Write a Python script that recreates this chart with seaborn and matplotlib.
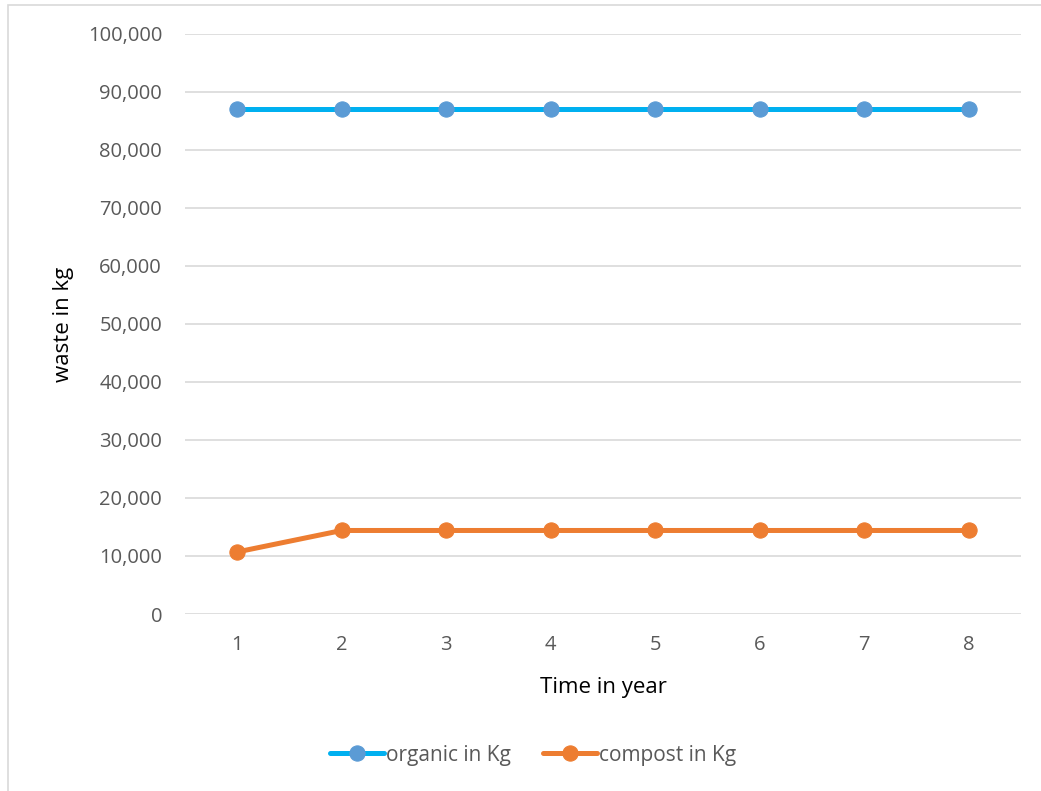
import numpy as np
import pandas as pd
import matplotlib.pyplot as plt
import matplotlib.ticker as mticker
from matplotlib.patches import Rectangle
import seaborn as sns

# data
years = [1, 2, 3, 4, 5, 6, 7, 8]
organic = [87000, 87000, 87000, 87000, 87000, 87000, 87000, 87000]
compost = [10700, 14400, 14400, 14400, 14400, 14400, 14400, 14400]
series_names = ["organic in Kg", "compost in Kg"]

df = pd.DataFrame({
    "year": years * 2,
    "waste": organic + compost,
    "series": [series_names[0]] * len(years) + [series_names[1]] * len(years),
})

sns.set_style("white")
plt.rcParams['font.family'] = ['Open Sans', 'DejaVu Sans']

fig = plt.figure(figsize=(10.41, 7.91), dpi=100)
ax = fig.add_axes([185 / 1041, 1 - 614 / 791, 836 / 1041, 580 / 791])

# light frame around the chart area
fig.patches.append(Rectangle((8 / 1041, -0.1), 1.2, 1 - 5 / 791 + 0.1,
                             transform=fig.transFigure, fill=False,
                             edgecolor='#D9D9D9', linewidth=1.2))

styles = {
    series_names[0]: dict(line='#00B0F0', marker='#5B9BD5'),
    series_names[1]: dict(line='#ED7D31', marker='#ED7D31'),
}

for name in series_names:
    sub = df[df["series"] == name]
    sns.lineplot(data=sub, x="year", y="waste", ax=ax, color=styles[name]['line'],
                 linewidth=3.6, marker='o', markersize=11,
                 markerfacecolor=styles[name]['marker'],
                 markeredgecolor=styles[name]['marker'], label=name)

ax.set_xlim(0.5, 8.5)
ax.set_ylim(0, 100000)
ax.set_xticks(years)
ax.set_yticks(np.arange(0, 100001, 10000))
ax.yaxis.set_major_formatter(mticker.FuncFormatter(lambda v, p: f"{int(v):,}"))
ax.grid(axis='y', color='#D9D9D9', linewidth=1.2)
ax.set_axisbelow(True)
for s in ax.spines.values():
    s.set_visible(False)
ax.tick_params(axis='both', length=0, labelsize=14.5, colors='#595959')
ax.tick_params(axis='x', pad=15)
ax.tick_params(axis='y', pad=16.5)

ax.set_xlabel("Time in year", fontsize=16, color='black', labelpad=16)
ax.set_ylabel("waste in kg", fontsize=16, color='black', labelpad=10)

# legend sits centred on the chart frame, below the axis title
fig.legend(*ax.get_legend_handles_labels(), loc='center',
           bbox_to_anchor=(533 / 1041, 1 - 755 / 791), bbox_transform=fig.transFigure,
           ncol=2, frameon=False, fontsize=15, handlelength=2.6, handletextpad=0.1,
           columnspacing=1.5, labelcolor='#595959')
ax.get_legend().remove()

fig.savefig("out.png", dpi=100)
